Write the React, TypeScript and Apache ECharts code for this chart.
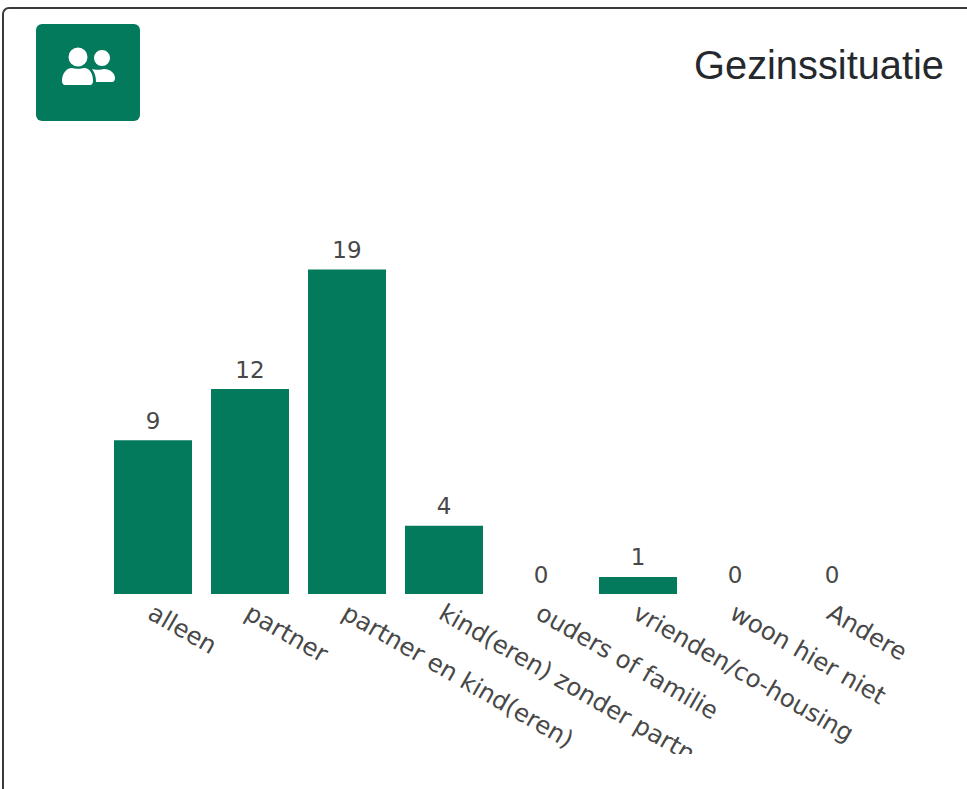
import React, { useEffect, useRef } from "react";
import * as echarts from "echarts";

const categories = ["alleen", "partner", "partner en kind(eren)", "kind(eren) zonder partner", "ouders of familie", "vrienden/co-housing", "woon hier niet", "Andere"];
const values = [9, 12, 19, 4, 0, 1, 0, 0];
const titleText = "Gezinssituatie";
const GREEN = "#047a5d";
const iconPath =
  "M17 -0.5a9.500 9.500 0 1 1 0 19a9.500 9.500 0 1 1 0-19z M41 2a8 8 0 1 1 0 16a8 8 0 1 1 0-16z M1 33c0-7 4-13 10-13c2 1 10 1 12 0c6 0 9 6 9 13c0 2-1 4-3 4H4c-2 0-3-2-3-4z M31 21c2 1 9 1 12 0c6 0 11 4 11 9c0 2-1 4-3 4H35c0-5-1-9-4-13z";
echarts.graphic.registerShape("peopleIcon", echarts.graphic.extendPath(iconPath, {}));

export default function App() {
  const ref = useRef<HTMLDivElement>(null);
  useEffect(() => {
    document.body.style.margin = "0";
    const chart = echarts.init(ref.current!, undefined, { renderer: "svg" });
    chart.setOption({
      animation: false,
      backgroundColor: "transparent",
      title: {
        text: titleText,
        right: 18,
        top: 40,
        textStyle: { fontFamily: "Liberation Sans", fontSize: 39.8, fontWeight: "normal", color: "#25292d" },
      },
      grid: { left: 104.5, right: 86.5, top: 252.5, bottom: 160, outerBoundsMode: "none" },
      xAxis: {
        type: "category",
        data: categories,
        axisLine: { show: false },
        axisTick: { show: false },
        axisLabel: {
          interval: 0,
          rotate: -30,
          margin: 12,
          verticalAlign: "top",
          lineHeight: 10,
          color: "#484848",
          fontFamily: "DejaVu Sans",
          fontSize: 24.4,
          hideOverlap: false,
        },
      },
      yAxis: { type: "value", min: 0, max: 20, show: false, splitLine: { show: false } },
      series: [
        {
          type: "bar",
          data: values,
          barWidth: 78,
          itemStyle: { color: GREEN },
          label: {
            show: true,
            position: "top",
            distance: 8,
            color: "#484848",
            fontFamily: "DejaVu Sans",
            fontSize: 23,
          },
        },
      ],
      graphic: [
        {
          type: "rect",
          shape: { x: 36, y: 24, width: 104, height: 97, r: 6 },
          style: { fill: GREEN },
        },
        {
          type: "peopleIcon",
          x: 61,
          y: 48,
          style: { fill: "#fff" },
        },
      ],
    });
    return () => chart.dispose();
  }, []);
  return (
    <div style={{ position: "relative", width: 967, height: 789, overflow: "hidden", background: "#fff" }}>
      <div
        style={{
          position: "absolute",
          left: 2,
          top: 7,
          width: 1000,
          height: 900,
          border: "2px solid #3a3a3a",
          borderRadius: 7,
          boxSizing: "border-box",
        }}
      />
      <div ref={ref} style={{ position: "absolute", left: 0, top: 0, width: 967, height: 754 }} />
    </div>
  );
}
